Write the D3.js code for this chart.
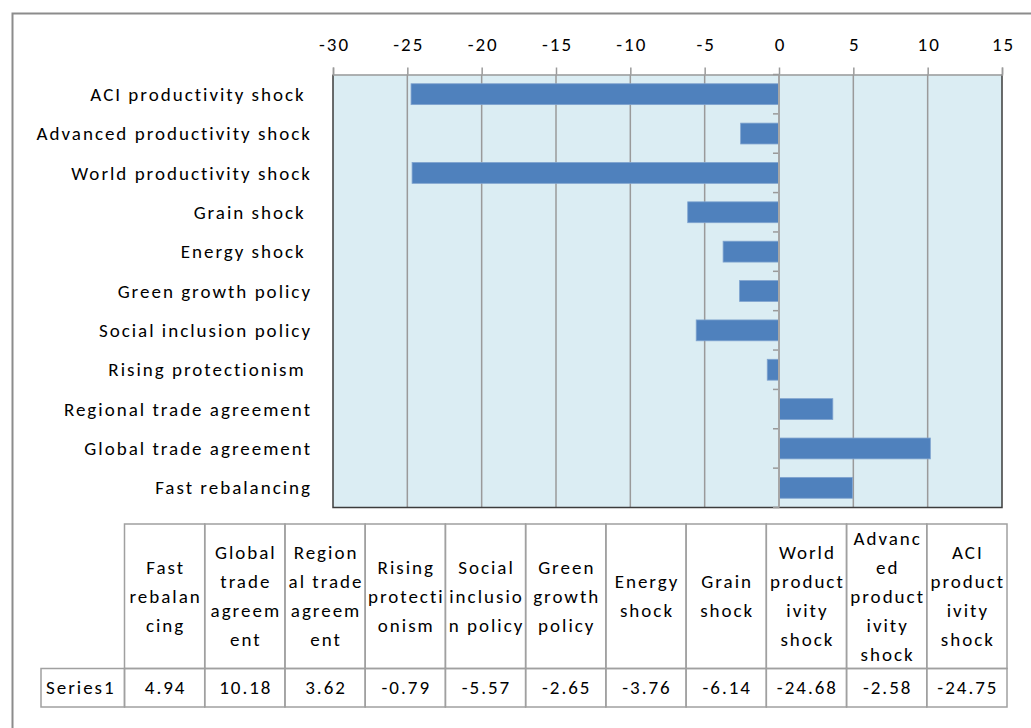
<!DOCTYPE html>
<html>
<head>
<meta charset="utf-8">
<script src="https://cdn.jsdelivr.net/npm/d3@7"></script>
<style>
  html, body { margin: 0; padding: 0; background: #fff; }
  svg { display: block; }
  text { font-family: Carlito, Calibri, Lato, "Open Sans", sans-serif; fill: #000; letter-spacing: 2px; }
</style>
</head>
<body>
<svg id="chart" width="1031" height="728"></svg>
<script>
// Scenario names, top to bottom in the bar chart
const categories = [
  "ACI productivity shock ",
  "Advanced productivity shock",
  "World productivity shock",
  "Grain shock ",
  "Energy shock ",
  "Green growth policy",
  "Social inclusion policy",
  "Rising protectionism ",
  "Regional trade agreement",
  "Global trade agreement",
  "Fast rebalancing"
];
// Series1 values, same order as categories
const values = [-24.75, -2.58, -24.68, -6.14, -3.76, -2.65, -5.57, -0.79, 3.62, 10.18, 4.94];
// Value axis ticks
const xTicks = [-30, -25, -20, -15, -10, -5, 0, 5, 10, 15];
// Data table column headings (wrapped as in the sheet), left to right
const tableHeaders = [
  ["Fast", "rebalan", "cing"],
  ["Global", "trade", "agreem", "ent"],
  ["Region", "al trade", "agreem", "ent"],
  ["Rising", "protecti", "onism"],
  ["Social", "inclusio", "n policy"],
  ["Green", "growth", "policy"],
  ["Energy", "shock"],
  ["Grain", "shock"],
  ["World", "product", "ivity", "shock"],
  ["Advanc", "ed", "product", "ivity", "shock"],
  ["ACI", "product", "ivity", "shock"]
];
const seriesName = "Series1";

const svg = d3.select("#chart");
const FONT = 19;

// outer frame (left and top edges are visible)
svg.append("path")
  .attr("d", "M12.5,740 V13.5 H1040")
  .attr("fill", "none").attr("stroke", "#8c8c8c").attr("stroke-width", 2);

// ---- bar chart ----
const plot = { left: 333, right: 1002, top: 74.5, bottom: 507.5 };
const x = d3.scaleLinear().domain([-30, 15]).range([plot.left, plot.right]);
const y = d3.scaleBand().domain(categories).range([plot.top, plot.bottom])
  .paddingInner(0.47).paddingOuter(0.235);

// plot area background
svg.append("rect")
  .attr("x", plot.left).attr("y", plot.top)
  .attr("width", plot.right - plot.left).attr("height", plot.bottom - plot.top)
  .attr("fill", "#dbedf3");

// vertical gridlines
svg.append("g").selectAll("line").data(xTicks.filter(d => d !== 0 && d !== -30 && d !== 15)).join("line")
  .attr("x1", d => x(d)).attr("x2", d => x(d))
  .attr("y1", plot.top).attr("y2", plot.bottom)
  .attr("stroke", "#9a9a9a").attr("stroke-width", 1.5);

// plot border (left, right, bottom)
svg.append("path")
  .attr("d", `M${plot.left},${plot.top} V${plot.bottom} H${plot.right} V${plot.top}`)
  .attr("fill", "none").attr("stroke", "#3c3c3c").attr("stroke-width", 1.5);

// bars
svg.append("g").selectAll("rect").data(categories).join("rect")
  .attr("x", (d, i) => x(Math.min(0, values[i])))
  .attr("width", (d, i) => Math.abs(x(values[i]) - x(0)))
  .attr("y", d => y(d))
  .attr("height", y.bandwidth())
  .attr("fill", "#4f81bd")
  .attr("stroke", "#7fa3cf").attr("stroke-width", 0.8);

// category axis at zero: line with outward ticks at band boundaries
const bounds = d3.range(categories.length + 1).map(i => plot.top + i * y.step());
svg.append("g").selectAll("line").data(bounds).join("line")
  .attr("x1", x(0) - 6).attr("x2", x(0))
  .attr("y1", d => d).attr("y2", d => d)
  .attr("stroke", "#9a9a9a").attr("stroke-width", 1.5);
svg.append("line")
  .attr("x1", x(0)).attr("x2", x(0)).attr("y1", plot.top).attr("y2", plot.bottom)
  .attr("stroke", "#a6a6a6").attr("stroke-width", 2);

// top value axis
const xAxis = d3.axisTop(x).tickValues(xTicks).tickSize(7).tickPadding(17).tickFormat(d3.format("d"));
const gx = svg.append("g").attr("transform", `translate(0,${plot.top})`).call(xAxis);
gx.select(".domain").attr("stroke", "#9a9a9a").attr("stroke-width", 1.5);
gx.selectAll(".tick line").attr("stroke", "#9a9a9a").attr("stroke-width", 1.5);
gx.selectAll(".tick text")
  .attr("font-size", FONT).attr("fill", "#000")
  .attr("dx", 1)
  .style("font-family", "Carlito, Calibri, Lato, 'Open Sans', sans-serif")
  .text(d => d < 0 ? "-" + Math.abs(d) : String(d));

// category labels
svg.append("g").selectAll("text").data(categories).join("text")
  .attr("x", 312)
  .attr("y", d => y(d) + y.bandwidth() / 2)
  .attr("dy", "0.35em")
  .attr("text-anchor", "end")
  .attr("font-size", FONT)
  .style("white-space", "pre")
  .text(d => d);

// ---- data table ----
const tableValues = values.slice().reverse();
const table = { left: 124.5, right: 1007, top: 524, mid: 668.5, bottom: 707, labelLeft: 41 };
const col = d3.scaleBand().domain(d3.range(tableHeaders.length)).range([table.left, table.right]);
const tg = svg.append("g");
const lineColor = "#a0a0a0";

// header row cells and data row cells
tg.selectAll("rect.h").data(tableHeaders).join("rect")
  .attr("x", (d, i) => col(i)).attr("y", table.top)
  .attr("width", col.bandwidth()).attr("height", table.mid - table.top)
  .attr("fill", "none").attr("stroke", lineColor).attr("stroke-width", 1.5);
tg.selectAll("rect.v").data(tableValues).join("rect")
  .attr("x", (d, i) => col(i)).attr("y", table.mid)
  .attr("width", col.bandwidth()).attr("height", table.bottom - table.mid)
  .attr("fill", "none").attr("stroke", lineColor).attr("stroke-width", 1.5);
tg.append("rect")
  .attr("x", table.labelLeft).attr("y", table.mid)
  .attr("width", table.left - table.labelLeft).attr("height", table.bottom - table.mid)
  .attr("fill", "none").attr("stroke", lineColor).attr("stroke-width", 1.5);

// header text, vertically centred in the header row
const lh = 29;
const midH = (table.top + table.mid) / 2;
tableHeaders.forEach((lines, i) => {
  const cx = col(i) + col.bandwidth() / 2 + 1;
  const t = tg.append("text")
    .attr("text-anchor", "middle")
    .attr("font-size", FONT)
    .attr("x", cx);
  lines.forEach((ln, j) => {
    t.append("tspan")
      .attr("x", cx)
      .attr("y", midH + (j - (lines.length - 1) / 2) * lh)
      .attr("dy", "0.35em")
      .text(ln);
  });
});

// value text
const midV = (table.mid + table.bottom) / 2;
tg.selectAll("text.val").data(tableValues).join("text")
  .attr("class", "val")
  .attr("x", (d, i) => col(i) + col.bandwidth() / 2 + 1)
  .attr("y", midV).attr("dy", "0.35em")
  .attr("text-anchor", "middle").attr("font-size", FONT)
  .text(d => d.toFixed(2));
tg.append("text")
  .attr("x", table.labelLeft + 5).attr("y", midV).attr("dy", "0.35em")
  .attr("font-size", FONT)
  .text(seriesName);
</script>
</body>
</html>
